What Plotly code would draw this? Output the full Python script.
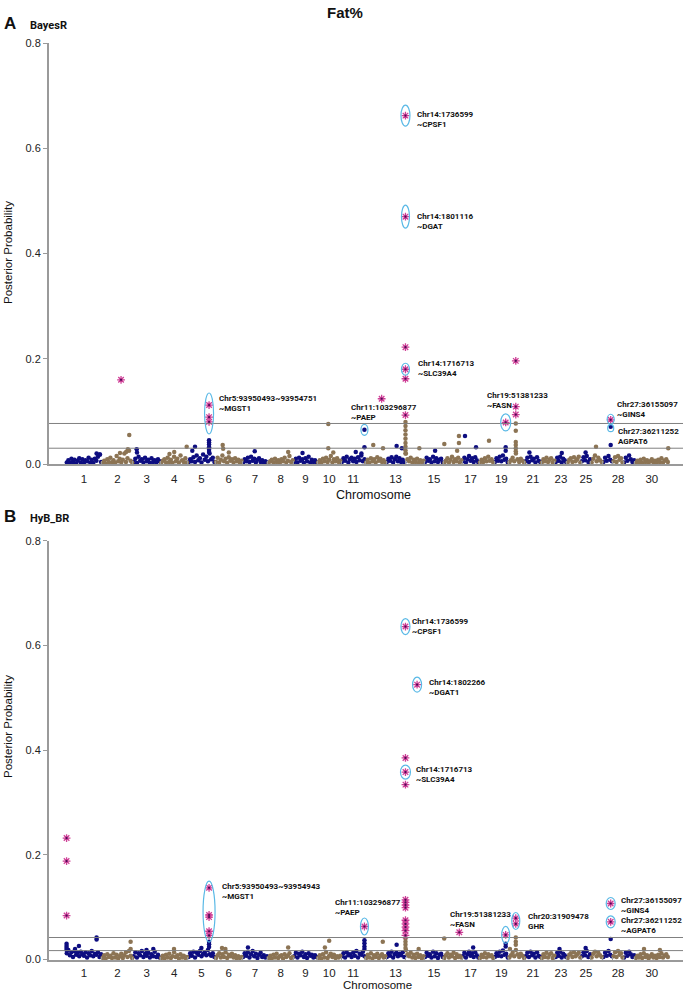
import plotly.graph_objects as go

# ---------------- data ----------------
chrom_len = [158.3, 137.1, 121.4, 120.8, 121.2, 119.5, 112.6, 113.4, 105.7, 104.3,
             107.3, 91.2, 84.2, 84.6, 85.3, 81.7, 75.2, 66.0, 64.1, 72.0,
             71.6, 61.4, 52.5, 62.7, 42.9, 51.7, 45.4, 46.3, 51.5, 148.8]
tick_chroms = [1, 2, 3, 4, 5, 6, 7, 8, 9, 10, 11, 13, 15, 17, 19, 21, 23, 25, 28, 30]

# background SNP posterior probabilities (x 0.001), one row per chromosome
bg_a = [
    [3, 7, 2, 10, 4, 8, 1, 6, 11, 3, 9, 2, 7, 5, 12, 3, 8, 2, 10, 6, 14, 18, 4],
    [2, 6, 1, 9, 4, 12, 3, 7, 2, 15, 5, 10, 3, 8, 20, 4, 11, 25, 6, 3],
    [4, 10, 2, 14, 6, 9, 3, 12, 5, 8, 2, 11, 4, 7, 3, 9, 5],
    [2, 6, 9, 3, 12, 4, 8, 2, 14, 5, 10, 3, 16, 7, 4, 11, 3],
    [3, 9, 5, 13, 4, 16, 7, 11, 3, 18, 8, 14, 5, 20, 9, 12, 4],
    [4, 12, 3, 8, 16, 5, 10, 2, 13, 6, 9, 3, 11, 5, 8, 2, 6],
    [3, 9, 5, 12, 4, 14, 6, 10, 3, 8, 11, 4, 7, 2, 5, 3],
    [2, 5, 8, 3, 10, 4, 7, 2, 9, 5, 12, 3, 6, 15, 4, 7],
    [4, 10, 3, 12, 6, 9, 2, 11, 5, 14, 3, 8, 4, 7, 3],
    [3, 7, 2, 10, 5, 12, 4, 8, 15, 3, 9, 5, 11, 4, 6],
    [4, 11, 6, 14, 3, 9, 12, 5, 10, 4, 13, 7, 16, 5, 9],
    [3, 8, 2, 11, 5, 9, 3, 13, 6, 10, 4, 7, 3],
    [4, 10, 6, 13, 3, 9, 14, 5, 11, 4, 8, 3],
    [20, 9, 5, 12, 3, 8, 4, 10, 2, 7, 4, 6],
    [4, 12, 6, 9, 3, 14, 5, 11, 4, 8, 10, 3],
    [2, 6, 11, 3, 8, 14, 4, 9, 5, 12, 3, 7],
    [5, 12, 3, 9, 15, 6, 11, 4, 13, 7, 3],
    [3, 8, 4, 11, 5, 14, 6, 9, 3],
    [4, 11, 6, 14, 5, 16, 8, 10, 3],
    [3, 7, 12, 5, 20, 9, 4, 10, 6, 3],
    [5, 12, 4, 14, 7, 10, 3, 13, 6, 4],
    [3, 9, 5, 12, 4, 8, 11, 3, 6],
    [4, 12, 6, 14, 3, 10, 7, 4],
    [3, 8, 11, 4, 13, 5, 9, 14, 3],
    [5, 13, 7, 15, 4, 9],
    [3, 10, 16, 5, 12, 7, 4],
    [4, 12, 6, 15, 8, 5],
    [5, 13, 4, 15, 8, 11, 3],
    [3, 12, 6, 16, 9, 4, 7],
    [2, 6, 3, 8, 2, 10, 4, 7, 2, 5, 9, 3, 6, 2, 8, 4, 11, 3, 6, 9, 4],
]
bg_b = [
    [12, 18, 8, 14, 5, 16, 9, 13, 6, 15, 10, 7, 14, 4, 12, 8, 16, 6, 11, 9, 14, 5, 10],
    [3, 8, 2, 10, 5, 7, 3, 12, 4, 9, 2, 6, 11, 3, 8, 14, 5, 16, 7, 3],
    [6, 14, 4, 12, 8, 16, 5, 11, 7, 13, 4, 10, 6, 15, 5, 9, 4],
    [3, 7, 2, 9, 4, 11, 3, 6, 14, 5, 8, 2, 10, 4, 7, 3, 5],
    [5, 12, 7, 15, 4, 13, 9, 16, 6, 11, 14, 8, 18, 10, 7, 12, 5],
    [3, 8, 12, 4, 10, 5, 14, 3, 9, 6, 11, 4, 8, 2, 6, 3, 5],
    [5, 12, 7, 14, 4, 10, 16, 6, 11, 3, 9, 13, 5, 8, 4, 6],
    [3, 7, 2, 9, 4, 11, 3, 6, 8, 2, 10, 5, 7, 12, 3, 5],
    [6, 13, 4, 11, 8, 15, 5, 10, 3, 12, 7, 9, 4, 8, 5],
    [3, 8, 2, 10, 4, 14, 3, 7, 11, 5, 9, 3, 6, 4, 7],
    [6, 12, 4, 14, 8, 10, 5, 13, 7, 16, 4, 11, 9, 15, 6],
    [3, 9, 4, 12, 2, 8, 5, 11, 3, 7, 10, 4, 6],
    [5, 12, 7, 15, 4, 10, 13, 6, 11, 8, 14, 5],
    [18, 10, 6, 13, 4, 9, 3, 11, 5, 8, 2, 6],
    [5, 13, 7, 10, 4, 15, 6, 12, 3, 9, 11, 5],
    [3, 8, 12, 4, 9, 6, 13, 3, 10, 5, 7, 4],
    [6, 13, 4, 10, 15, 7, 12, 5, 14, 8, 4],
    [3, 9, 5, 12, 4, 10, 6, 8, 3],
    [5, 12, 7, 15, 6, 17, 9, 11, 4],
    [4, 8, 13, 6, 18, 10, 5, 11, 7, 3],
    [6, 13, 5, 15, 8, 11, 4, 14, 7, 5],
    [3, 10, 5, 13, 4, 9, 12, 3, 7],
    [5, 13, 7, 15, 4, 11, 8, 5],
    [3, 9, 12, 5, 14, 6, 10, 13, 4],
    [6, 14, 8, 16, 5, 10],
    [4, 11, 15, 6, 13, 8, 5],
    [5, 13, 7, 16, 9, 6],
    [6, 14, 5, 16, 9, 12, 4],
    [4, 13, 7, 15, 10, 5, 8],
    [3, 7, 4, 10, 3, 12, 5, 8, 2, 6, 10, 4, 7, 3, 9, 5, 12, 4, 7, 10, 5],
]

# isolated SNPs standing above the background (chromosome, Mb, posterior probability)
ext_a_chr = [1, 1, 2, 2, 2, 2, 3, 3, 4, 4, 4, 5, 5, 5, 5, 5, 5, 5, 5, 6, 6, 6, 7, 8, 9,
             10, 10, 10, 11, 11, 11, 11, 12, 12, 13, 13,
             14, 14, 14, 14, 14, 14, 14, 14, 14, 14, 15, 16, 16, 16, 16, 17, 17, 18, 19, 19,
             20, 20, 20, 20, 20, 20, 21, 23, 25, 26, 27, 27, 30]
ext_a_mb = [135, 150, 121, 80, 107, 115, 16.7, 18, 61, 116, 40, 32, 94, 94, 94, 94, 94, 94, 20, 33, 35, 60, 55, 90, 40,
            48, 48, 70, 103.3, 103.3, 65, 90, 35, 78, 47, 70,
            1.8, 1.8, 1.8, 1.8, 1.8, 1.8, 1.8, 1.8, 1.8, 63, 48, 3.3, 68, 68, 60, 13, 61.7, 43.7, 51.4, 51.4,
            31.9, 31.9, 31.9, 31.9, 31.9, 31.9, 20, 30, 20, 23, 36.21, 36.2, 147]
ext_a_val = [0.020, 0.018, 0.055, 0.021, 0.023, 0.028, 0.028, 0.022, 0.023, 0.033, 0.019, 0.033,
             0.045, 0.041, 0.037, 0.032, 0.027, 0.023, 0.025, 0.036, 0.029, 0.022, 0.024, 0.023, 0.021,
             0.076, 0.030, 0.022, 0.065, 0.032, 0.023, 0.020, 0.036, 0.030, 0.034, 0.030,
             0.080, 0.072, 0.064, 0.056, 0.048, 0.040, 0.033, 0.026, 0.020, 0.030, 0.025, 0.038, 0.053, 0.040,
             0.025, 0.053, 0.032, 0.044, 0.032, 0.025,
             0.077, 0.063, 0.042, 0.036, 0.030, 0.024, 0.022, 0.021, 0.022, 0.033, 0.071, 0.036, 0.030]

ext_b_chr = [1, 1, 1, 1, 1, 1, 1, 1, 2, 2, 3, 3, 4, 5, 5, 5, 5, 6, 6, 7, 8, 10, 10,
             11, 11, 11, 11, 12, 13, 14, 14, 14, 14, 14, 16, 17, 19, 19, 20, 20, 20, 20,
             23, 25, 27, 30, 30]
ext_b_mb = [2.5, 2.5, 2.5, 2.5, 57, 135, 135, 40, 127, 127, 60, 90, 60, 94, 94, 94, 60, 30, 45, 25, 90, 52, 33,
            103.3, 103.3, 103.3, 103.3, 77, 47, 1.8, 1.8, 1.8, 1.8, 60, 3, 49, 51.4, 51.4, 31.9, 31.9, 31.9, 6,
            20, 20, 36.2, 40, 110]
ext_b_val = [0.030, 0.026, 0.022, 0.018, 0.026, 0.042, 0.038, 0.020, 0.034, 0.020, 0.018, 0.020, 0.020,
             0.034, 0.029, 0.024, 0.022, 0.022, 0.020, 0.023, 0.023, 0.036, 0.023,
             0.037, 0.031, 0.025, 0.020, 0.034, 0.028, 0.040, 0.034, 0.028, 0.022, 0.020, 0.040, 0.023,
             0.030, 0.025, 0.042, 0.034, 0.028, 0.020, 0.020, 0.022, 0.039, 0.020, 0.018]

# significant SNPs (drawn as asterisks)
star_a_chr = [2, 5, 5, 5, 12, 14, 14, 14, 14, 14, 14, 19, 20, 20, 20, 27]
star_a_mb = [84.7, 94.0, 94.0, 94.0, 72.0, 1.74, 1.80, 1.72, 1.72, 1.72, 1.72, 51.4, 31.9, 31.9, 31.9, 36.16]
star_a_val = [0.160, 0.112, 0.089, 0.080, 0.124, 0.662, 0.470, 0.222, 0.180, 0.162, 0.093, 0.079,
              0.196, 0.109, 0.094, 0.084]

star_b_chr = [1, 1, 1, 5, 5, 5, 5, 5, 11, 14, 14, 14, 14, 14, 14, 14, 14, 14, 14, 14, 14, 14, 14,
              16, 19, 20, 20, 27, 27]
star_b_mb = [2.5, 2.5, 2.5, 94, 94, 94, 94, 94, 103.3, 1.74, 53.0, 1.72, 1.72, 1.72,
             1.8, 1.8, 1.8, 1.8, 1.8, 1.8, 1.8, 1.8, 1.8, 69.5, 51.4, 31.9, 31.9, 36.16, 36.21]
star_b_val = [0.232, 0.188, 0.084, 0.137, 0.085, 0.081, 0.054, 0.046, 0.063, 0.636, 0.525, 0.385, 0.358,
              0.334, 0.114, 0.109, 0.104, 0.099, 0.075, 0.068, 0.062, 0.055, 0.046, 0.052, 0.047,
              0.079, 0.068, 0.107, 0.072]

# annotated loci (circle centre) and their labels
loc_a_chr = [14, 14, 14, 5, 11, 19, 27, 27]
loc_a_mb = [1.74, 1.80, 1.72, 94.0, 103.3, 51.4, 36.16, 36.21]
loc_a_val = [0.662, 0.470, 0.180, 0.096, 0.065, 0.079, 0.085, 0.068]
loc_a_text = ["Chr14:1736599<br>~CPSF1", "Chr14:1801116<br>~DGAT", "Chr14:1716713<br>~SLC39A4",
              "Chr5:93950493~93954751<br>~MGST1", "Chr11:103296877<br>~PAEP",
              "Chr19:51381233<br>~FASN", "Chr27:36155097<br>~GINS4", "Chr27:36211252<br>AGPAT6"]

loc_b_chr = [14, 14, 14, 5, 11, 19, 20, 27, 27]
loc_b_mb = [1.74, 53.0, 1.72, 94.0, 103.3, 51.4, 31.9, 36.16, 36.21]
loc_b_val = [0.636, 0.525, 0.358, 0.0915, 0.063, 0.047, 0.0735, 0.107, 0.072]
loc_b_text = ["Chr14:1736599<br>~CPSF1", "Chr14:1802266<br>~DGAT1", "Chr14:1716713<br>~SLC39A4",
              "Chr5:93950493~93954943<br>~MGST1", "Chr11:103296877<br>~PAEP",
              "Chr19:51381233<br>~FASN", "Chr20:31909478<br>GHR", "Chr27:36155097<br>~GINS4",
              "Chr27:36211252<br>~AGPAT6"]

thr_a = [0.077, 0.030]
thr_b = [0.042, 0.017]

# ---------------- styling (pixels) ----------------
ell_a_w = [9, 8, 8, 9, 7, 10, 7, 6]
ell_a_h = [21, 23, 12, 41, 11, 17, 10, 7]
lab_a_dx = [10, 10, 11, 8, -15, -21, 4, 5]
lab_a_dy = [-4, -5, 1, 10, 17, 22, 10, -8]

ell_b_w = [9, 9, 10, 12, 8, 8, 8, 9, 9]
ell_b_h = [16, 15, 14, 61, 17, 17, 17, 12, 12]
lab_b_dx = [5, 10, 9, 11, -31, -58, 10, 8, 8]
lab_b_dy = [0, -3, -2, 20, 19, 15, 0, -2, -4]

BLUE = "#0d0d80"
BROWN = "#8c7454"
PINK = "#cf3f97"
CYAN = "#5ab9e6"
GREY = "#9a9a9a"
AX_FONT = "Liberation Sans, Arial, sans-serif"
LAB_FONT = "Roboto, sans-serif"

W, H = 689, 992
X_L, X_R = 49, 683
PX_PER_MB = 0.2265
X0_PX = 66
panels = [
    dict(top=43, bot=464),
    dict(top=540.7, bot=959.5),
]

starts = []
acc = 0.0
for L in chrom_len:
    starts.append(acc)
    acc += L
bounds = starts[1:]


def gx(c, mb):
    return starts[c - 1] + mb


x_range = [(X_L - X0_PX) / PX_PER_MB, (X_R - X0_PX) / PX_PER_MB]

fig = go.Figure()
shapes = []
annots = []


def add_panel(idx, bg, ec, em, ev, sc, sm, sv, lc, lm, lv, lt, ew, eh, ldx, ldy, thr):
    xa = "x" if idx == 0 else "x2"
    ya = "y" if idx == 0 else "y2"
    for parity, col in ((1, BLUE), (0, BROWN)):
        xs, ys = [], []
        for ci, vals in enumerate(bg):
            c = ci + 1
            if c % 2 != parity:
                continue
            n = len(vals)
            for i, v in enumerate(vals):
                xs.append(starts[ci] + (i + 0.5) * chrom_len[ci] / n)
                ys.append(v / 1000.0)
        for c, m, v in zip(ec, em, ev):
            if c % 2 == parity:
                xs.append(gx(c, m))
                ys.append(v)
        fig.add_trace(go.Scatter(x=xs, y=ys, mode="markers", xaxis=xa, yaxis=ya,
                                 marker=dict(color=col, size=4.5, line=dict(width=0)),
                                 cliponaxis=False, hoverinfo="skip"))
    sx = [gx(c, m) for c, m in zip(sc, sm)]
    fig.add_trace(go.Scatter(x=sx, y=sv, mode="markers", xaxis=xa, yaxis=ya,
                             marker=dict(symbol="asterisk-open", size=6.5, color=PINK,
                                         line=dict(color=PINK, width=1.3)),
                             cliponaxis=False, hoverinfo="skip"))
    fig.add_trace(go.Scatter(x=sx, y=sv, mode="markers", xaxis=xa, yaxis=ya,
                             marker=dict(size=2.2, color="#4a0d55"),
                             cliponaxis=False, hoverinfo="skip"))
    for t in thr:
        shapes.append(dict(type="line", xref=xa + " domain", yref=ya, x0=0, x1=1, y0=t, y1=t,
                           line=dict(color="#808080", width=1)))
    for c, m, v, txt, w, h, dx, dy in zip(lc, lm, lv, lt, ew, eh, ldx, ldy):
        xc = gx(c, m)
        shapes.append(dict(type="circle", xref=xa, yref=ya, xsizemode="pixel", ysizemode="pixel",
                           xanchor=xc, yanchor=v, x0=-w / 2, x1=w / 2, y0=-h / 2, y1=h / 2,
                           line=dict(color=CYAN, width=1.2)))
        annots.append(dict(x=xc, y=v, xref=xa, yref=ya, text="<b>" + txt + "</b>", showarrow=False,
                           xanchor="left", yanchor="middle", align="left", xshift=dx, yshift=dy,
                           font=dict(family=LAB_FONT, size=8, color="#111")))


add_panel(0, bg_a, ext_a_chr, ext_a_mb, ext_a_val, star_a_chr, star_a_mb, star_a_val,
          loc_a_chr, loc_a_mb, loc_a_val, loc_a_text, ell_a_w, ell_a_h, lab_a_dx, lab_a_dy, thr_a)
add_panel(1, bg_b, ext_b_chr, ext_b_mb, ext_b_val, star_b_chr, star_b_mb, star_b_val,
          loc_b_chr, loc_b_mb, loc_b_val, loc_b_text, ell_b_w, ell_b_h, lab_b_dx, lab_b_dy, thr_b)

tickvals = [starts[c - 1] + chrom_len[c - 1] / 2 for c in tick_chroms]
ticktext = [str(c) for c in tick_chroms]

xcommon = dict(range=x_range, domain=[X_L / W, X_R / W], showgrid=False, zeroline=False,
               automargin=False,
               showline=True, linecolor=GREY, linewidth=1.5, tickmode="array",
               tickvals=tickvals, ticktext=ticktext, ticks="",
               tickfont=dict(family=AX_FONT, size=11.5, color="#222"),
               minor=dict(tickmode="array", tickvals=bounds, ticks="inside", ticklen=3,
                          tickcolor=GREY, tickwidth=1))
ycommon = dict(range=[0, 0.8], showgrid=False, zeroline=False, showline=True, linecolor=GREY,
               automargin=False,
               linewidth=2, tickmode="array", tickvals=[0, 0.2, 0.4, 0.6, 0.8],
               ticktext=["0.0", "0.2", "0.4", "0.6", "0.8"], ticks="outside", ticklen=4,
               tickcolor=GREY, tickfont=dict(family=AX_FONT, size=11, color="#222"))

p0, p1 = panels
fig.update_layout(
    width=W, height=H, margin=dict(l=0, r=0, t=0, b=0, autoexpand=False),
    plot_bgcolor="white", paper_bgcolor="white", showlegend=False,
    xaxis=dict(xcommon, anchor="y", ticklabelstandoff=3),
    yaxis=dict(ycommon, anchor="x", domain=[1 - p0["bot"] / H, 1 - p0["top"] / H]),
    xaxis2=dict(xcommon, anchor="y2", ticklabelstandoff=2),
    yaxis2=dict(ycommon, anchor="x2", domain=[1 - p1["bot"] / H, 1 - p1["top"] / H]),
)


# titles and panel labels
def pap(x, y, text, size, family=AX_FONT, xanchor="center", angle=0):
    annots.append(dict(x=x / W, y=1 - y / H, xref="paper", yref="paper", text=text, showarrow=False,
                       xanchor=xanchor, yanchor="middle", textangle=angle,
                       font=dict(family=family, size=size, color="#111")))


pap(345, 13, "<b>Fat%</b>", 15)
pap(2, 24, "<b>A</b>", 17, xanchor="left")
pap(28, 25.5, "<b>BayesR</b>", 11, family=LAB_FONT, xanchor="left")
pap(2, 516, "<b>B</b>", 17, xanchor="left")
pap(28, 518, "<b>HyB_BR</b>", 11, family=LAB_FONT, xanchor="left")
pap(8, 253, "Posterior Probability", 11.5, angle=-90)
pap(8, 727, "Posterior Probability", 11.5, angle=-90)
pap(373, 495, "Chromosome", 12.5)
pap(377, 984.5, "Chromosome", 11.5)

fig.update_layout(shapes=shapes, annotations=annots)
fig.write_html("out.html", config={"displayModeBar": False},
               post_script="document.body.style.margin='0';document.body.style.overflow='hidden';")
